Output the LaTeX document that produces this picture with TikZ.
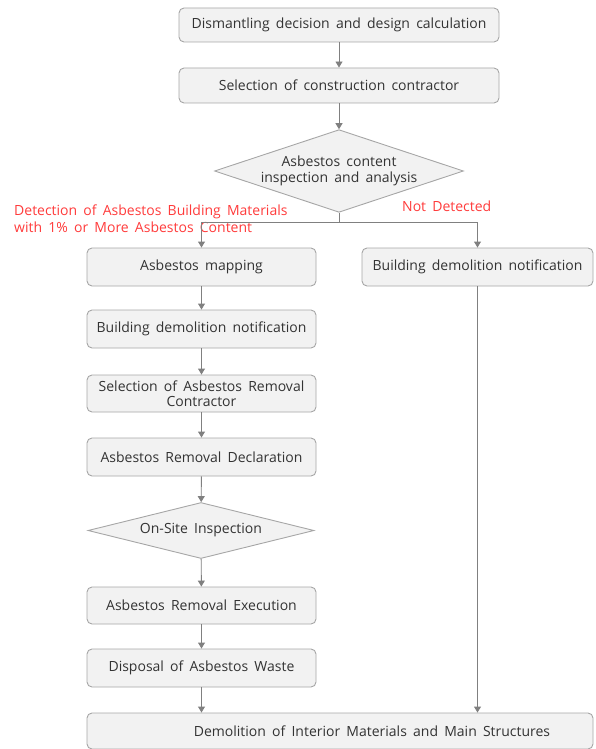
\documentclass[tikz,border=0pt]{standalone}
\usepackage{fontspec}
\setmainfont{Open Sans}[WordSpace=1.7]
\usetikzlibrary{shapes.geometric,arrows.meta}
\definecolor{boxfill}{HTML}{F2F2F2}
\definecolor{boxline}{HTML}{A6A6A6}
\definecolor{arr}{HTML}{808080}
\definecolor{redtxt}{HTML}{FF3B3B}
\tikzset{
  stepbox/.style={draw=boxline, fill=boxfill, rounded corners=5pt, line width=0.9pt,
    inner sep=0pt, align=center, font=\fontsize{14}{15.5}\selectfont, text=black!80},
  decbox/.style={draw=boxline, fill=boxfill, shape=diamond, line width=0.9pt,
    inner sep=0pt, align=center, font=\fontsize{14}{16.5}\selectfont, text=black!80},
  flow/.style={draw=arr, line width=0.9pt, -{Triangle[width=7pt,length=6pt]}},
  plain/.style={draw=arr, line width=0.9pt},
  redlab/.style={text=redtxt, font=\fontsize{14}{17}\selectfont, inner sep=0pt}
}
\begin{document}
\begin{tikzpicture}[x=1pt,y=-1pt]
\useasboundingbox (0,0) rectangle (595,749);
\node[stepbox, minimum width=320pt, minimum height=34pt] (b1) at (339,25) {Dismantling decision and design calculation};
\node[stepbox, minimum width=320pt, minimum height=35pt] (b2) at (339,85.5) {Selection of construction contractor};
\node[decbox, minimum width=249pt, minimum height=82pt, aspect=3] (d1) at (339,171) {Asbestos content\\inspection and analysis};
\node[stepbox, minimum width=229pt, minimum height=38pt] (map) at (201.5,267) {Asbestos mapping};
\node[stepbox, minimum width=231pt, minimum height=38pt] (rb) at (477.5,267) {Building demolition notification};
\node[stepbox, minimum width=229pt, minimum height=38pt] (bdn) at (201.5,329) {Building demolition notification};
\node[stepbox, minimum width=229pt, minimum height=37pt] (sel) at (201.5,393.5) {Selection of Asbestos Removal\\Contractor};
\node[stepbox, minimum width=229pt, minimum height=38pt] (dec) at (201.5,457) {Asbestos Removal Declaration};
\node[decbox, minimum width=226pt, minimum height=56pt, aspect=4] (d2) at (201,530.5) {On-Site Inspection};
\node[stepbox, minimum width=229pt, minimum height=37pt] (exe) at (201.5,605.5) {Asbestos Removal Execution};
\node[stepbox, minimum width=229pt, minimum height=38pt] (disp) at (201.5,668) {Disposal of Asbestos Waste};
\node[stepbox, minimum width=506pt, minimum height=36pt] (fin) at (340,731) {};
\node[font=\fontsize{14}{15.5}\selectfont, text=black!80, inner sep=0pt] (fint) at (372,731) {Demolition of Interior Materials and Main Structures};
\node[redlab, anchor=north west, align=left] (ylab) at (14,204.5) {Detection of Asbestos Building Materials\\with 1\% or More Asbestos Content};
\node[redlab, anchor=north west] (nlab) at (402,200.5) {Not Detected};
\coordinate (split) at (339,222);
\draw[flow] (b1) -- (b2);
\draw[flow] (b2) -- (d1);
\draw[plain] (d1.south) -- (split);
\draw[flow] (split) -| (map.north);
\draw[flow] (split) -| (rb.north);
\draw[flow] (map) -- (bdn);
\draw[flow] (bdn) -- (sel);
\draw[flow] (sel) -- (dec);
\draw[flow] (dec) -- (d2);
\draw[flow] (d2) -- (exe);
\draw[flow] (exe) -- (disp);
\draw[flow] (disp.south) -- (disp.south |- fin.north);
\draw[flow] (rb.south) -- (rb.south |- fin.north);
\end{tikzpicture}
\end{document}
